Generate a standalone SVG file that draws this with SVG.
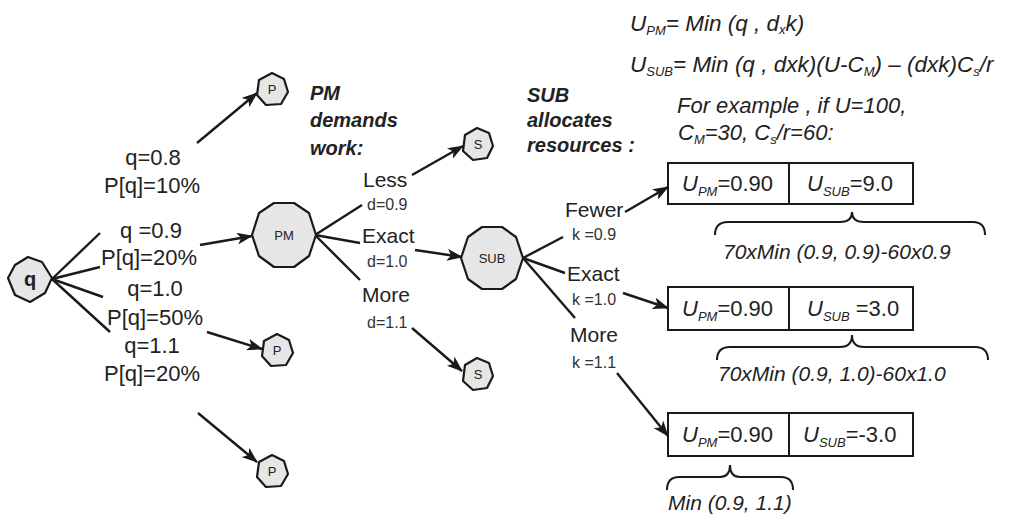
<svg xmlns="http://www.w3.org/2000/svg" width="1010" height="521" viewBox="0 0 1010 521">
  <defs>
    <marker id="arrow" markerUnits="userSpaceOnUse" markerWidth="16" markerHeight="12" refX="15" refY="6" orient="auto">
      <path d="M0,0 L16,6 L0,12 L4,6 Z" fill="#1a1a1a"/>
    </marker>
    <style>
      .node { fill: #e6e6e6; stroke: #1a1a1a; stroke-width: 2.2; stroke-linejoin: round; }
      .edge { stroke: #1a1a1a; stroke-width: 2.4; fill: none; }
      .arr { stroke: #1a1a1a; stroke-width: 2.4; fill: none; marker-end: url(#arrow); }
      .box { fill: #ffffff; stroke: #1a1a1a; stroke-width: 2; }
      .brace { fill: none; stroke: #1a1a1a; stroke-width: 2; }
      text { font-family: "Liberation Sans", Arial, sans-serif; fill: #222; }
      .lbl { font-size: 22px; text-anchor: middle; }
      .opt { font-size: 21px; }
      .small { font-size: 16px; fill: #333; }
      .nd { font-size: 13px; text-anchor: middle; }
      .head { font-size: 20px; font-weight: bold; font-style: italic; }
      .eq { font-size: 22px; font-style: italic; }
      .eqw { font-size: 22.5px; font-style: italic; }
      .bx { font-size: 22px; }
      .it { font-style: italic; }
      .sub { font-size: 13px; font-style: italic; }
      .note { font-size: 21px; font-style: italic; }
    </style>
  </defs>

  <!-- connectors -->
  <g id="connectors">
    <!-- q fan-out -->
    <line class="edge" x1="52" y1="279" x2="100" y2="233"/>
    <line class="edge" x1="52" y1="279" x2="100" y2="267"/>
    <line class="edge" x1="52" y1="279" x2="103" y2="297"/>
    <line class="edge" x1="52" y1="279" x2="110" y2="332"/>
    <!-- q outcomes -->
    <line class="arr" x1="197" y1="143" x2="257" y2="93"/>
    <line class="arr" x1="200" y1="245" x2="252" y2="236"/>
    <line class="arr" x1="207" y1="332" x2="262" y2="349"/>
    <line class="arr" x1="198" y1="413" x2="257" y2="462"/>
    <!-- PM fan-out -->
    <line class="edge" x1="315" y1="235" x2="362" y2="205"/>
    <line class="edge" x1="315" y1="235" x2="360" y2="243"/>
    <line class="edge" x1="315" y1="235" x2="360" y2="280"/>
    <!-- PM outcomes -->
    <line class="arr" x1="412" y1="175" x2="463" y2="146"/>
    <line class="arr" x1="415" y1="250" x2="462" y2="257"/>
    <line class="arr" x1="412" y1="328" x2="462" y2="371"/>
    <!-- SUB fan-out -->
    <line class="edge" x1="523" y1="258" x2="563" y2="237"/>
    <line class="edge" x1="523" y1="258" x2="565" y2="273"/>
    <line class="edge" x1="523" y1="258" x2="575" y2="318"/>
    <!-- SUB outcomes -->
    <line class="arr" x1="625" y1="212" x2="668" y2="187"/>
    <line class="arr" x1="623" y1="293" x2="668" y2="308"/>
    <line class="arr" x1="617" y1="373" x2="668" y2="436"/>
  </g>

  <!-- chance node q -->
  <g id="node-q">
    <polygon class="node" points="8,278 15,265 28,257 42,262 52,278 45,293 30,302 15,295"/>
    <text x="30" y="286" font-size="20" font-weight="bold" text-anchor="middle">q</text>
  </g>

  <g id="node-p1">
    <polygon class="node" points="272,73 284,79 288,92 281,104 266,105 257,95 259,80"/>
    <text class="nd" x="272" y="94">P</text>
  </g>
  <g id="node-p2">
    <polygon class="node" points="277,334 289,340 293,353 286,365 271,366 262,356 264,341"/>
    <text class="nd" x="277" y="355">P</text>
  </g>
  <g id="node-p3">
    <polygon class="node" points="272,455 284,461 288,474 281,486 266,487 257,477 259,462"/>
    <text class="nd" x="272" y="476">P</text>
  </g>

  <g id="node-pm">
    <polygon class="node" points="274,203 294,203 309,213 316,235 309,256 294,267 274,267 259,256 252,235 259,213"/>
    <text class="nd" x="284" y="240">PM</text>
  </g>

  <g id="node-s1">
    <polygon class="node" points="477,128 489,133 493,146 487,158 473,160 463,151 465,135"/>
    <text class="nd" x="478" y="149">S</text>
  </g>
  <g id="node-s2">
    <polygon class="node" points="477,358 489,363 493,376 487,388 473,390 463,381 465,365"/>
    <text class="nd" x="478" y="379">S</text>
  </g>

  <g id="node-sub">
    <polygon class="node" points="482,227 502,227 516,237 523,258 516,279 502,289 482,289 468,279 461,258 468,237"/>
    <text class="nd" x="492" y="263">SUB</text>
  </g>

  <!-- demand probabilities -->
  <g id="labels-q">
    <text class="lbl" x="153" y="165">q=0.8</text>
    <text class="lbl" x="152" y="193">P[q]=10%</text>
    <text class="lbl" x="151" y="238">q =0.9</text>
    <text class="lbl" x="149" y="265">P[q]=20%</text>
    <text class="lbl" x="155" y="296">q=1.0</text>
    <text class="lbl" x="155" y="325">P[q]=50%</text>
    <text class="lbl" x="152" y="353">q=1.1</text>
    <text class="lbl" x="152" y="381">P[q]=20%</text>
  </g>

  <!-- PM choices -->
  <g id="labels-pm">
    <text class="head" x="310" y="100">PM</text>
    <text class="head" x="310" y="127">demands</text>
    <text class="head" x="310" y="155">work:</text>
    <text class="opt" x="363" y="187">Less</text>
    <text class="small" x="367" y="210">d=0.9</text>
    <text class="opt" x="362" y="243">Exact</text>
    <text class="small" x="367" y="267">d=1.0</text>
    <text class="opt" x="362" y="302">More</text>
    <text class="small" x="367" y="328">d=1.1</text>
  </g>

  <!-- SUB choices -->
  <g id="labels-sub">
    <text class="head" x="527" y="102">SUB</text>
    <text class="head" x="527" y="127">allocates</text>
    <text class="head" x="527" y="152">resources :</text>
    <text class="opt" x="565" y="217">Fewer</text>
    <text class="small" x="572" y="240">k =0.9</text>
    <text class="opt" x="567" y="281">Exact</text>
    <text class="small" x="572" y="305">k =1.0</text>
    <text class="opt" x="570" y="342">More</text>
    <text class="small" x="572" y="368">k =1.1</text>
  </g>

  <!-- utility definitions -->
  <g id="formulas">
    <text class="eqw" x="630" y="31">U<tspan class="sub" dy="4">PM</tspan><tspan dy="-4">= Min (q , d</tspan><tspan class="sub" dy="3">x</tspan><tspan dy="-3">k)</tspan></text>
    <text class="eqw" x="630" y="72">U<tspan class="sub" dy="4">SUB</tspan><tspan dy="-4">= Min (q , dxk)(U-C</tspan><tspan class="sub" dy="4">M</tspan><tspan dy="-4">) – (dxk)C</tspan><tspan class="sub" dy="4">s</tspan><tspan dy="-4">/r</tspan></text>
    <text class="eq" x="677" y="113">For example , if U=100,</text>
    <text class="eq" x="678" y="140">C<tspan class="sub" dy="4">M</tspan><tspan dy="-4">=30, C</tspan><tspan class="sub" dy="4">s</tspan><tspan dy="-4">/r=60:</tspan></text>
  </g>

  <!-- outcome tables -->
  <g id="outcome-fewer">
    <rect class="box" x="668" y="163" width="245" height="41"/>
    <line class="box" x1="789" y1="163" x2="789" y2="204"/>
    <text class="bx" x="682" y="191"><tspan class="it">U</tspan><tspan class="sub" dy="5">PM</tspan><tspan dy="-5">=0.90</tspan></text>
    <text class="bx" x="807" y="191"><tspan class="it">U</tspan><tspan class="sub" dy="5">SUB</tspan><tspan dy="-5">=9.0</tspan></text>
    <path class="brace" d="M715,235 Q715,222 728,222 L840,222 Q852,222 852,212 Q852,222 864,222 L973,222 Q985,222 985,235"/>
    <text class="note" x="723" y="259">70xMin (0.9, 0.9)-60x0.9</text>
  </g>
  <g id="outcome-exact">
    <rect class="box" x="668" y="287" width="245" height="43"/>
    <line class="box" x1="789" y1="287" x2="789" y2="330"/>
    <text class="bx" x="682" y="316"><tspan class="it">U</tspan><tspan class="sub" dy="5">PM</tspan><tspan dy="-5">=0.90</tspan></text>
    <text class="bx" x="807" y="316"><tspan class="it">U</tspan><tspan class="sub" dy="5">SUB</tspan><tspan dy="-5"> =3.0</tspan></text>
    <path class="brace" d="M717,360 Q717,347 730,347 L840,347 Q852,347 852,335 Q852,347 864,347 L975,347 Q988,347 988,360"/>
    <text class="note" x="718" y="381">70xMin (0.9, 1.0)-60x1.0</text>
  </g>
  <g id="outcome-more">
    <rect class="box" x="668" y="413" width="245" height="43"/>
    <line class="box" x1="789" y1="413" x2="789" y2="456"/>
    <text class="bx" x="682" y="442"><tspan class="it">U</tspan><tspan class="sub" dy="5">PM</tspan><tspan dy="-5">=0.90</tspan></text>
    <text class="bx" x="803" y="442"><tspan class="it">U</tspan><tspan class="sub" dy="5">SUB</tspan><tspan dy="-5">=-3.0</tspan></text>
    <path class="brace" d="M667,490 Q667,477 679,477 L720,477 Q730,477 730,465 Q730,477 740,477 L781,477 Q793,477 793,490"/>
    <text class="note" x="668" y="510">Min (0.9, 1.1)</text>
  </g>
</svg>
